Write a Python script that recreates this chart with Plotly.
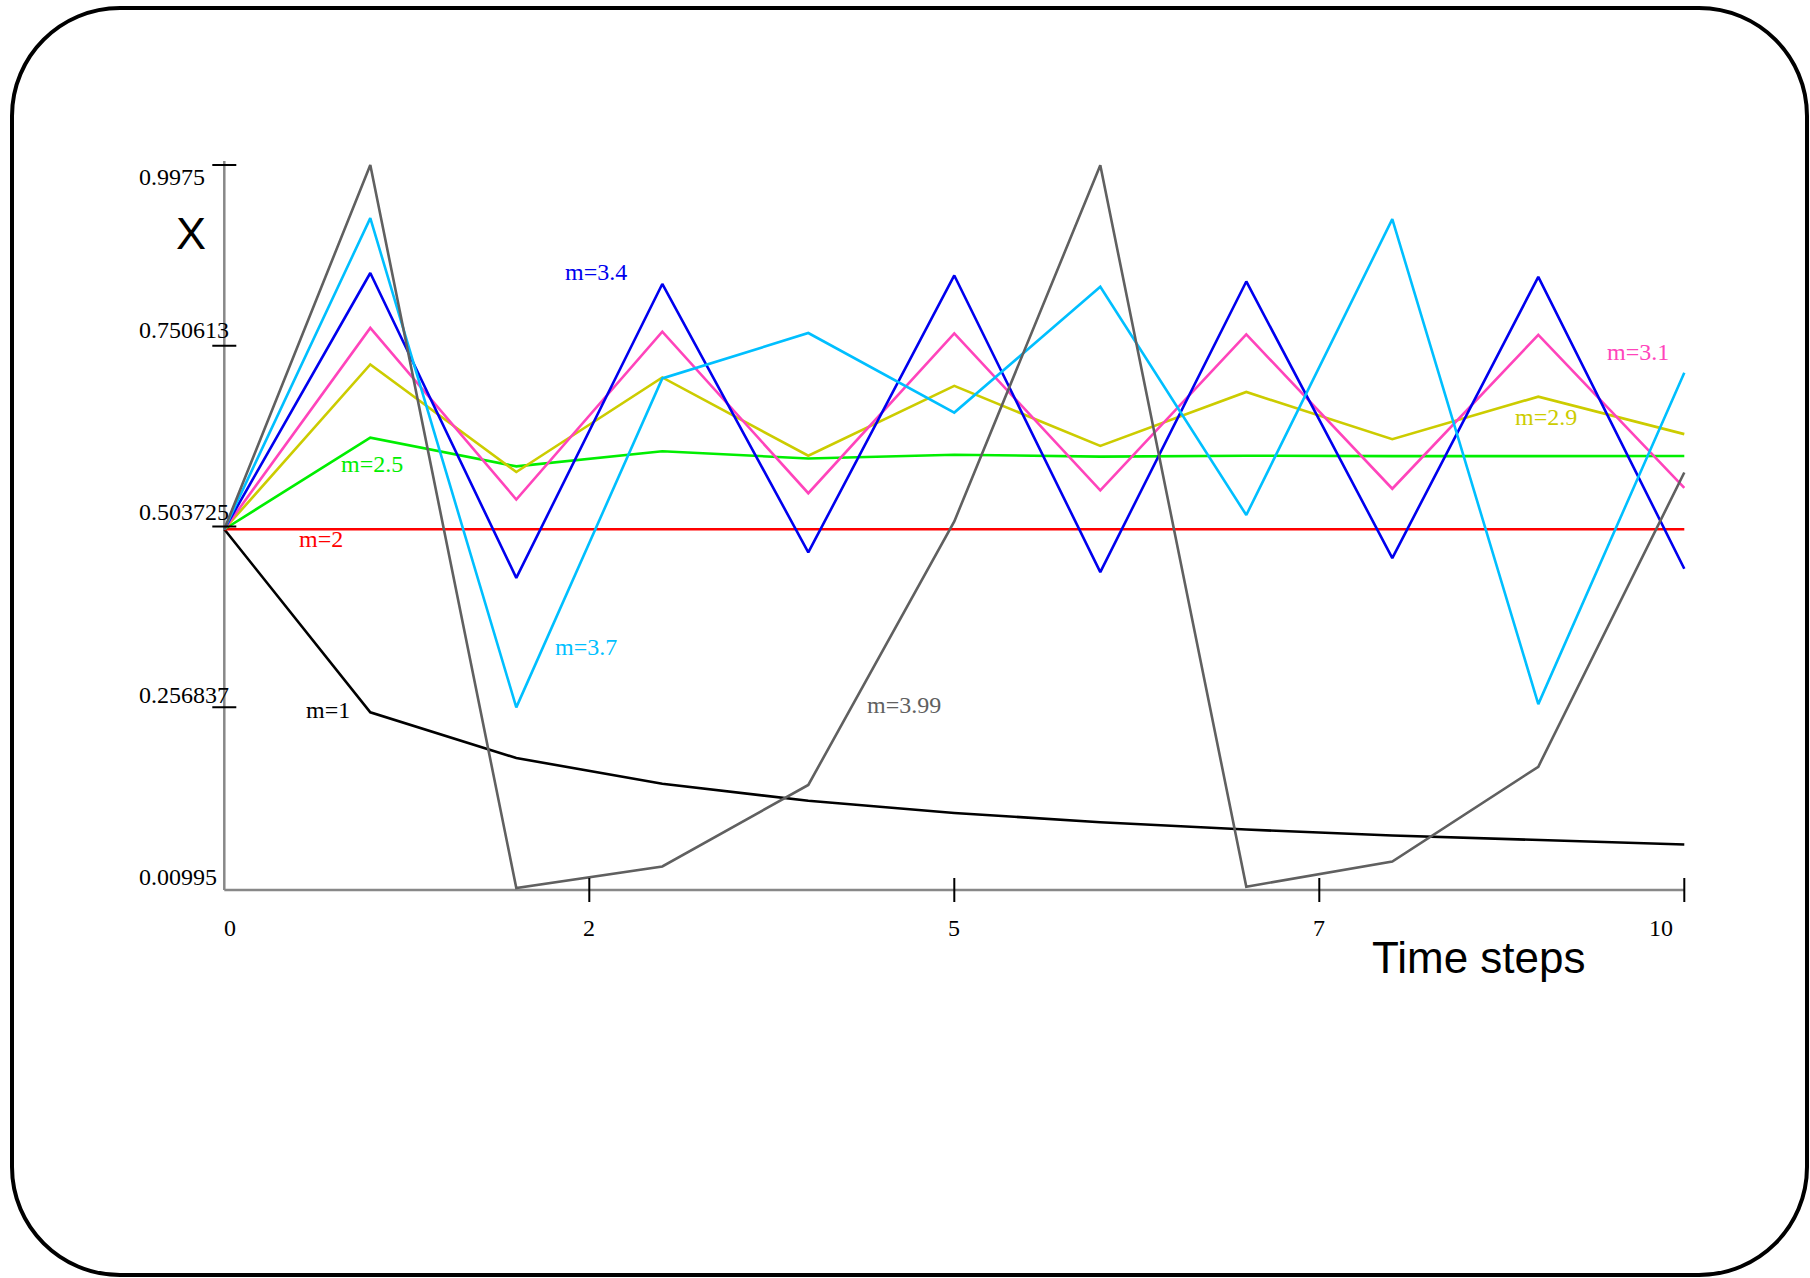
import plotly.graph_objects as go

W, H = 1810, 1278

steps = list(range(11))
m_labels = ["m=1", "m=2", "m=2.5", "m=2.9", "m=3.1", "m=3.4", "m=3.7", "m=3.99"]
x_m1 = [0.5, 0.25, 0.1875, 0.1523, 0.1291, 0.1124, 0.0998, 0.0898, 0.0817, 0.0751, 0.0694]
x_m2 = [0.5, 0.5, 0.5, 0.5, 0.5, 0.5, 0.5, 0.5, 0.5, 0.5, 0.5]
x_m25 = [0.5, 0.625, 0.5859, 0.6065, 0.5966, 0.6017, 0.5992, 0.6004, 0.5998, 0.6001, 0.6000]
x_m29 = [0.5, 0.725, 0.5782, 0.7073, 0.6004, 0.6958, 0.6138, 0.6875, 0.6230, 0.6811, 0.6299]
x_m31 = [0.5, 0.775, 0.5406, 0.7699, 0.5492, 0.7675, 0.5532, 0.7662, 0.5553, 0.7655, 0.5565]
x_m34 = [0.5, 0.85, 0.4335, 0.8350, 0.4684, 0.8466, 0.4415, 0.8384, 0.4606, 0.8447, 0.4460]
x_m37 = [0.5, 0.925, 0.2567, 0.7060, 0.7680, 0.6593, 0.8311, 0.5194, 0.9236, 0.2611, 0.7138]
x_m399 = [0.5, 0.9975, 0.00995, 0.0393, 0.1507, 0.5107, 0.9971, 0.0117, 0.0461, 0.1756, 0.5775]

y_tick_vals = [0.00995, 0.256837, 0.503725, 0.750613, 0.9975]
y_tick_text = ["0.00995", "0.256837", "0.503725", "0.750613", "0.9975"]
x_tick_vals = [0, 2.5, 5, 7.5, 10]
x_tick_text = ["0", "2", "5", "7", "10"]

series = [x_m1, x_m2, x_m25, x_m29, x_m31, x_m34, x_m37, x_m399]
colors = ["#000000", "#ff0000", "#00ee00", "#cccc00", "#ff44bb", "#0000ee", "#00bfff", "#606060"]
# label centre positions in pixels
label_pos = [(328, 710), (321, 539), (372, 464), (1546, 417), (1638, 352), (596, 272), (586, 647), (904, 705)]

SERIF = "Liberation Serif"
SANS = "Liberation Sans"

def px(x):
    return x / W

def py(y):
    return 1 - y / H

# axis geometry (pixels): x=0 at 224.3, x=10 at 1684.3; y=0.00995 at 888, y=0.9975 at 165
XMIN, XMAX = 0.0, 10.0
YMIN, YMAX = 0.00995, 0.9975
X0PX, X1PX = 224.3, 1684.3
YBPX, YTPX = 888.0, 165.0
XPAD, YPADB, YPADT = 0.12, 0.025, 0.01
sx = (X1PX - X0PX) / (XMAX - XMIN)
sy = (YBPX - YTPX) / (YMAX - YMIN)
xdom = [(X0PX - XPAD * sx) / W, (X1PX + XPAD * sx) / W]
ydom = [1 - (YBPX + YPADB * sy) / H, 1 - (YTPX - YPADT * sy) / H]

fig = go.Figure()
for vals, col, name in zip(series, colors, m_labels):
    fig.add_trace(go.Scatter(x=steps, y=vals, mode="lines", name=name,
                             line=dict(color=col, width=2.6), hoverinfo="skip"))

shapes = []
# axis lines
shapes.append(dict(type="line", xref="x", yref="y", x0=XMIN, x1=XMAX, ysizemode="pixel",
                   yanchor=YMIN, y0=-2, y1=-2, line=dict(color="#888888", width=2.5), layer="below"))
shapes.append(dict(type="line", xref="x", yref="y", x0=XMIN, x1=XMIN, ysizemode="pixel",
                   yanchor=YMIN, y0=-2, y1=(YBPX - YTPX) + 4,
                   line=dict(color="#888888", width=2.5), layer="below"))
# y tick marks (crossing)
for v in y_tick_vals[1:]:
    shapes.append(dict(type="line", xref="x", yref="y", xsizemode="pixel", xanchor=XMIN,
                       x0=-12, x1=12, y0=v, y1=v, line=dict(color="black", width=2)))
# x tick marks (crossing)
for v in x_tick_vals[1:]:
    shapes.append(dict(type="line", xref="x", yref="y", ysizemode="pixel", yanchor=YMIN,
                       y0=-14, y1=10, x0=v, x1=v, line=dict(color="black", width=2)))

# rounded frame
L, R, T, B, r = 12, 1807, 8, 1275, 108
k = 0.5523 * r
path = (
    f"M {px(L)},{py(T + r)} "
    f"C {px(L)},{py(T + r - k)} {px(L + r - k)},{py(T)} {px(L + r)},{py(T)} "
    f"L {px(R - r)},{py(T)} "
    f"C {px(R - r + k)},{py(T)} {px(R)},{py(T + r - k)} {px(R)},{py(T + r)} "
    f"L {px(R)},{py(B - r)} "
    f"C {px(R)},{py(B - r + k)} {px(R - r + k)},{py(B)} {px(R - r)},{py(B)} "
    f"L {px(L + r)},{py(B)} "
    f"C {px(L + r - k)},{py(B)} {px(L)},{py(B - r + k)} {px(L)},{py(B - r)} Z"
)
shapes.append(dict(type="path", xref="paper", yref="paper", path=path,
                   line=dict(color="black", width=4), fillcolor="rgba(0,0,0,0)"))

annotations = []
# y tick labels
y_label_py = [876.7, 695, 511.7, 330, 177]
for txt, yy in zip(y_tick_text, y_label_py):
    annotations.append(dict(text=txt, xref="paper", yref="paper", x=px(137), y=py(yy),
                            xanchor="left", yanchor="middle", showarrow=False,
                            font=dict(family=SERIF, size=24, color="black")))
# x tick labels
x_label_px = [230, 589, 953.5, 1319, 1661]
for txt, xx in zip(x_tick_text, x_label_px):
    annotations.append(dict(text=txt, xref="paper", yref="paper", x=px(xx), y=py(928),
                            xanchor="center", yanchor="middle", showarrow=False,
                            font=dict(family=SERIF, size=24, color="black")))
# axis titles
annotations.append(dict(text="X", xref="paper", yref="paper", x=px(190.5), y=py(234),
                        xanchor="center", yanchor="middle", showarrow=False,
                        font=dict(family=SANS, size=45, color="black")))
annotations.append(dict(text="Time steps", xref="paper", yref="paper", x=px(1479), y=py(957),
                        xanchor="center", yanchor="middle", showarrow=False,
                        font=dict(family=SANS, size=44, color="black")))
# series labels
for txt, col, (lx, ly) in zip(m_labels, colors, label_pos):
    annotations.append(dict(text=txt, xref="paper", yref="paper", x=px(lx), y=py(ly),
                            xanchor="center", yanchor="middle", showarrow=False,
                            font=dict(family=SERIF, size=24, color=col)))

fig.update_layout(
    width=W, height=H,
    margin=dict(l=0, r=0, t=0, b=0),
    paper_bgcolor="white", plot_bgcolor="white",
    showlegend=False,
    xaxis=dict(domain=xdom, range=[XMIN - XPAD, XMAX + XPAD], showgrid=False, zeroline=False,
               showticklabels=False, ticks="", showline=False),
    yaxis=dict(domain=ydom, range=[YMIN - YPADB, YMAX + YPADT], showgrid=False,
               zeroline=False, showticklabels=False, ticks="", showline=False),
    shapes=shapes,
    annotations=annotations,
)

fig.write_html("out.html")
